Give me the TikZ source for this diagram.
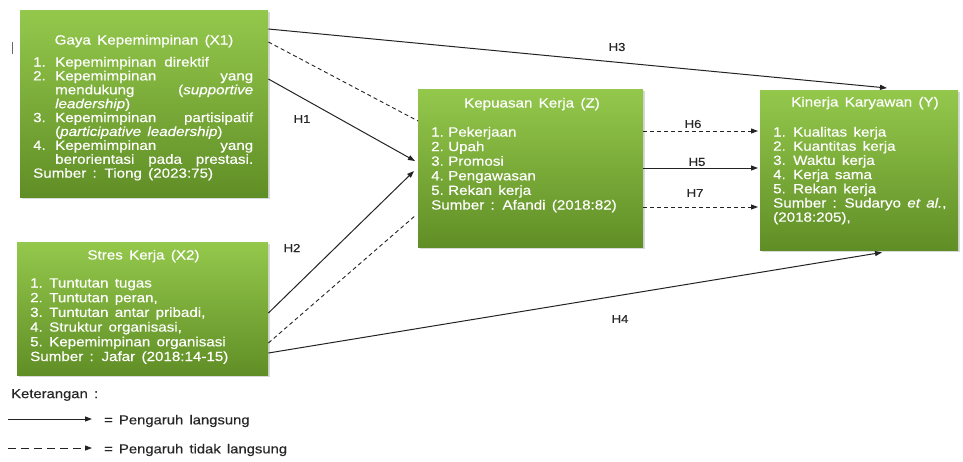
\documentclass[tikz,border=0pt]{standalone}
\usepackage{fontspec}
\setmainfont{Liberation Sans}[FakeStretch=1.14, WordSpace=1.5, FakeBold=0.4]
\usetikzlibrary{arrows.meta,shadows}
\definecolor{boxtop}{RGB}{148,200,76}
\definecolor{boxbot}{RGB}{96,142,38}
\definecolor{linecol}{RGB}{35,35,35}
\newcommand\NumBox[2]{\makebox[#1][l]{#2}}
\begin{document}
\begin{tikzpicture}[x=1pt,y=-1pt,
  box/.style={draw=none, rectangle, top color=boxtop, bottom color=boxbot,
    drop shadow={shadow xshift=1.5pt,shadow yshift=-2pt,opacity=0.3},
    anchor=north west, inner sep=0pt},
  ttl/.style={anchor=base, inner sep=0pt, text=white, font=\fontsize{13.3}{14}\selectfont},
  body/.style={anchor=base west, inner sep=0pt, text=white, font=\fontsize{13.3}{14}\selectfont},
  hlab/.style={inner sep=0pt, text=black!85, font=\fontsize{11.5}{12}\selectfont},
  legtext/.style={anchor=west, inner sep=0pt, text=black!85, font=\fontsize{13}{14}\selectfont},
  direct/.style={draw=linecol, line width=1pt, -{Triangle[length=7pt,width=5pt]}},
  indirect/.style={draw=linecol, line width=0.9pt, dash pattern=on 4pt off 3pt},
  indirectarrow/.style={indirect, -{Triangle[length=7pt,width=5pt]}},
]
\useasboundingbox (0,0) rectangle (963,461);

% boxes
\node[box, minimum width=248pt, minimum height=187pt] (x1) at (20,10) {};
\node[box, minimum width=251pt, minimum height=133pt] (x2) at (17,242) {};
\node[box, minimum width=225pt, minimum height=158pt] (z) at (418,89) {};
\node[box, minimum width=198pt, minimum height=160pt] (y) at (760,90) {};

% titles
\node[ttl] (x1title) at (144,44.5) {Gaya Kepemimpinan (X1)};
\node[ttl] (x2title) at (143.5,259.5) {Stres Kerja (X2)};
\node[ttl] (ztitle) at (532,107.5) {Kepuasan Kerja (Z)};
\node[ttl] (ytitle) at (865,106.5) {Kinerja Karyawan (Y)};

% bodies
\node[body] (x1body) at (33,66.5) {\vtop{\baselineskip=13.9pt\lineskiplimit=-20pt
  \hbox{\NumBox{22pt}{1.}Kepemimpinan\hskip 8pt direktif}
  \hbox to 220pt{\NumBox{22pt}{2.}Kepemimpinan\hfill yang}
  \hbox to 220pt{\NumBox{22pt}{}mendukung\hfill(\textit{supportive}}
  \hbox{\NumBox{22pt}{}\textit{leadership})}
  \hbox to 220pt{\NumBox{22pt}{3.}Kepemimpinan\hfill partisipatif}
  \hbox{\NumBox{22pt}{}(\textit{participative leadership})}
  \hbox to 220pt{\NumBox{22pt}{4.}Kepemimpinan\hfill yang}
  \hbox to 220pt{\NumBox{22pt}{}berorientasi\hfill pada\hfill prestasi.}
  \hbox{Sumber : Tiong (2023:75)}}};

\node[body] (x2body) at (30,287.5) {\vtop{\baselineskip=14.7pt\lineskiplimit=-20pt
  \hbox{\NumBox{19pt}{1.}Tuntutan tugas}
  \hbox{\NumBox{19pt}{2.}Tuntutan peran,}
  \hbox{\NumBox{19pt}{3.}Tuntutan antar pribadi,}
  \hbox{\NumBox{19pt}{4.}Struktur organisasi,}
  \hbox{\NumBox{19pt}{5.}Kepemimpinan organisasi}
  \hbox{Sumber : Jafar (2018:14-15)}}};

\node[body] (zbody) at (431,136.5) {\vtop{\baselineskip=14.6pt\lineskiplimit=-20pt
  \hbox{\NumBox{17pt}{1.}Pekerjaan}
  \hbox{\NumBox{17pt}{2.}Upah}
  \hbox{\NumBox{17pt}{3.}Promosi}
  \hbox{\NumBox{17pt}{4.}Pengawasan}
  \hbox{\NumBox{17pt}{5.}Rekan kerja}
  \hbox{Sumber : Afandi (2018:82)}}};

\node[body] (ybody) at (773,136.5) {\vtop{\baselineskip=14.2pt\lineskiplimit=-20pt
  \hbox{\NumBox{20pt}{1.}Kualitas kerja}
  \hbox{\NumBox{20pt}{2.}Kuantitas kerja}
  \hbox{\NumBox{20pt}{3.}Waktu kerja}
  \hbox{\NumBox{20pt}{4.}Kerja sama}
  \hbox{\NumBox{20pt}{5.}Rekan kerja}
  \hbox{Sumber : Sudaryo \textit{et al.},}
  \hbox{(2018:205),}}};

% connectors
\draw[direct] ([yshift=-19pt]x1.north east) -- ([xshift=127pt,yshift=2pt]y.north west);
\draw[indirect] ([yshift=-32pt]x1.north east) -- ([yshift=-32pt]z.north west);
\draw[direct] ([yshift=-69pt]x1.north east) -- ([xshift=-3pt,yshift=-72pt]z.north west);
\draw[direct] ([yshift=-71pt]x2.north east) -- ([xshift=-4pt,yshift=-82pt]z.north west);
\draw[indirect] ([yshift=-101pt]x2.north east) -- ([xshift=-2pt,yshift=-126pt]z.north west);
\draw[direct] ([yshift=-111pt]x2.north east) -- ([xshift=122pt,yshift=-2pt]y.south west);
\draw[indirectarrow] ([yshift=-42pt]z.north east) -- ([xshift=-2pt,yshift=-41pt]y.north west);
\draw[direct] ([yshift=-79pt]z.north east) -- ([xshift=-2pt,yshift=-78pt]y.north west);
\draw[indirectarrow] ([yshift=-118pt]z.north east) -- ([xshift=-2pt,yshift=-117pt]y.north west);

% hypothesis labels
\node[hlab] (h1) at (302,119) {H1};
\node[hlab] (h2) at (292,248) {H2};
\node[hlab] (h3) at (617,47) {H3};
\node[hlab] (h4) at (620,319) {H4};
\node[hlab] (h5) at (697,162) {H5};
\node[hlab] (h6) at (693,124) {H6};
\node[hlab] (h7) at (695,193) {H7};

% stray mark
\draw[black!60, line width=1pt] (12,42) -- (12,54);

% legend
\node[legtext] (ket) at (11,395) {Keterangan :};
\coordinate (la1) at (8,419);
\coordinate (la2) at (92,419);
\coordinate (lb1) at (8,448);
\coordinate (lb2) at (92,448);
\draw[direct] (la1) -- (la2);
\draw[draw=linecol, line width=0.9pt, dash pattern=on 8pt off 5pt, -{Triangle[length=7pt,width=5pt]}] (lb1) -- (lb2);
\node[legtext] (leg1) at (104,421) {= Pengaruh langsung};
\node[legtext] (leg2) at (104,450) {= Pengaruh tidak langsung};
\end{tikzpicture}
\end{document}
